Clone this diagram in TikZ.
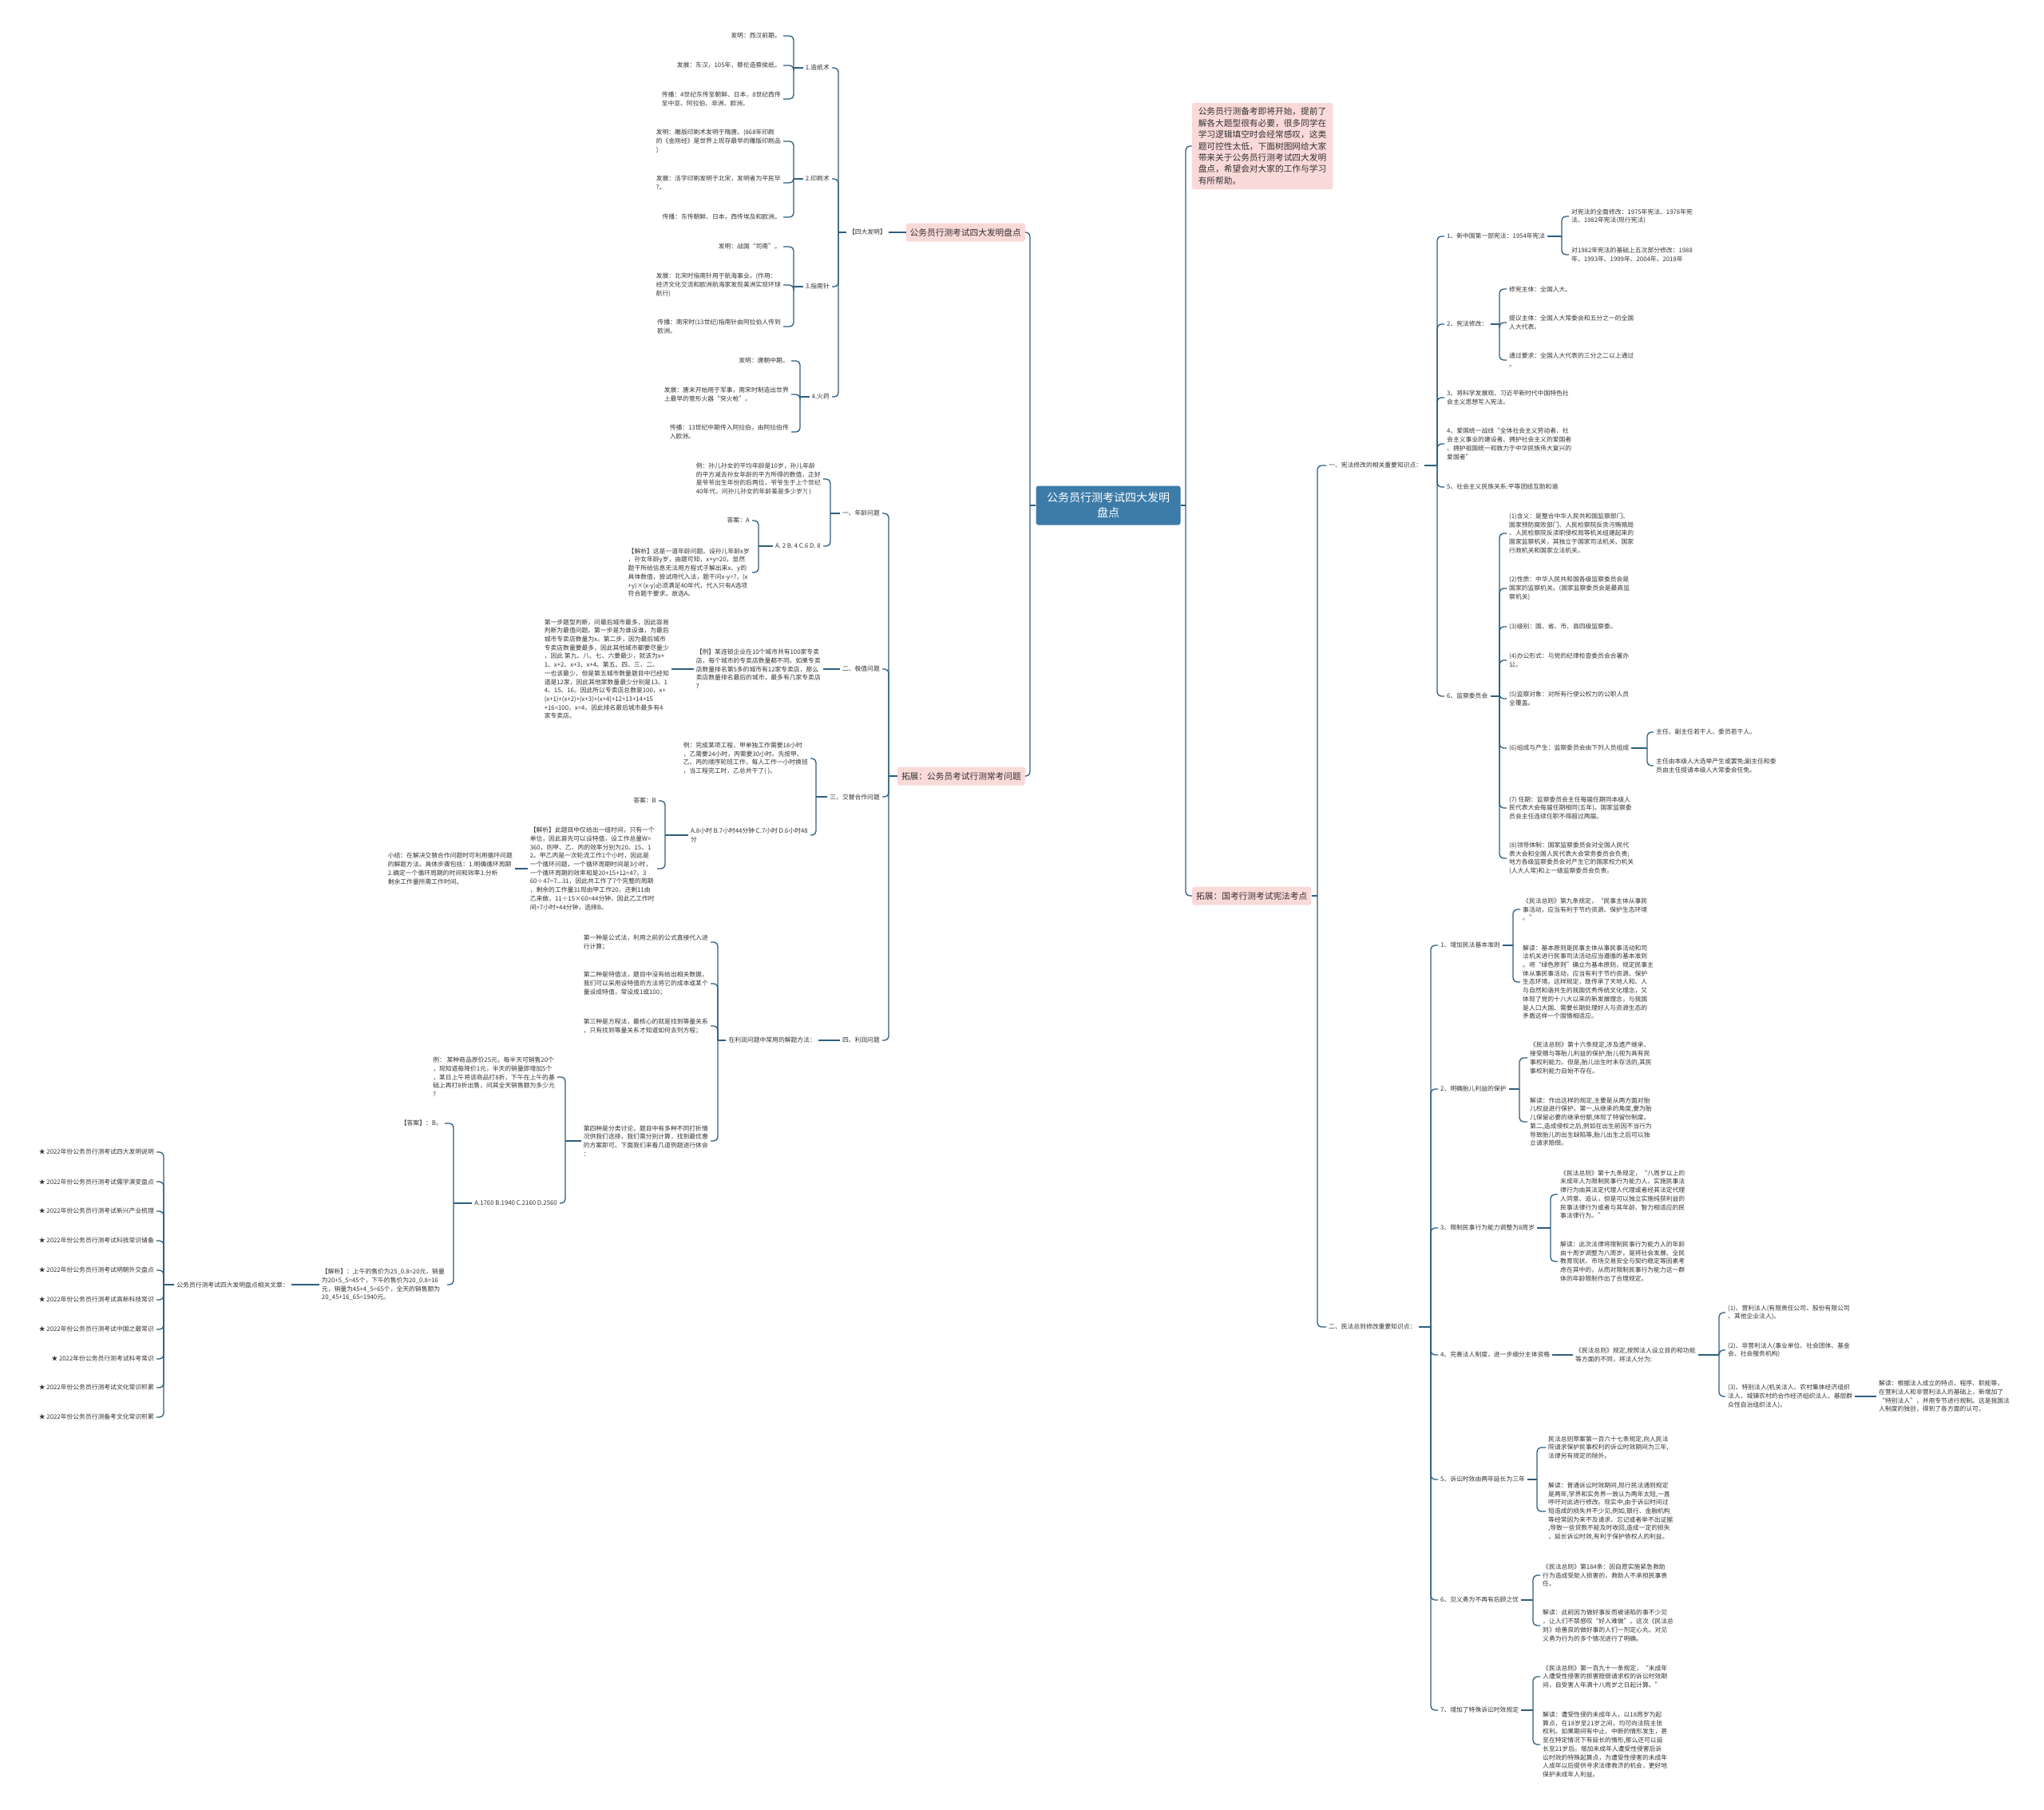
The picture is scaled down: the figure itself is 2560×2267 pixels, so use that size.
\documentclass[tikz,border=0pt]{standalone}
\usepackage{fontspec}
\setmainfont{Noto Sans CJK SC}
\usepackage{tikz}
\usetikzlibrary{positioning}
\definecolor{RootBlue}{HTML}{3D7CA8}
\definecolor{SoftPink}{HTML}{FAD9D9}
\definecolor{LinkBlue}{HTML}{2E5E7E}
\definecolor{TextGray}{HTML}{333333}
\newcommand{\leaffont}{\fontsize{7.8}{10.7}\selectfont}
% bracket connectors: parent, spine x, children
\newcommand{\brR}[3]{%
  \coordinate (sp) at (#2,0);
  \draw[link] (#1.east) -- (#1.east -| sp);
  \foreach \kid in {#3}{\draw[link] (#1.east -| sp) |- (\kid.west);}}
\newcommand{\brL}[3]{%
  \coordinate (sp) at (#2,0);
  \draw[link] (#1.west) -- (#1.west -| sp);
  \foreach \kid in {#3}{\draw[link] (#1.west -| sp) |- (\kid.east);}}

\begin{document}
\begin{tikzpicture}[x=1pt, y=-1pt,
  every node/.style={text=TextGray},
  leafL/.style={anchor=east, align=left, font=\leaffont, inner xsep=3pt, inner ysep=1pt},
  leafR/.style={anchor=west, align=left, font=\leaffont, inner xsep=3pt, inner ysep=1pt},
  pinkbox/.style={fill=SoftPink, rounded corners=3pt, align=left,
                  font=\fontsize{10.7}{14.4}\selectfont, inner xsep=5pt, minimum height=23pt},
  rootbox/.style={fill=RootBlue, text=white, rounded corners=3pt, align=center,
                  font=\fontsize{14}{19}\selectfont, minimum width=181pt, minimum height=49pt},
  link/.style={draw=LinkBlue, line width=1.3pt, rounded corners=5pt}
]
\fill[white] (0,0) rectangle (2560,2267);
\useasboundingbox (0,0) rectangle (2560,2267);

% Nodes
\node[rootbox] (root) at (1388,633) {公务员行测考试四大发明\\盘点};
\node[pinkbox, inner ysep=6pt, inner xsep=8pt] (intro) at (1581,183) {公务员行测备考即将开始，提前了\\解各大题型很有必要，很多同学在\\学习逻辑填空时会经常感叹，这类\\题可控性太低，下面树图网给大家\\带来关于公务员行测考试四大发明\\盘点，希望会对大家的工作与学习\\有所帮助。};
\node[pinkbox, anchor=east] (invL) at (1284,291) {公务员行测考试四大发明盘点};
\node[pinkbox, anchor=east] (extL) at (1284,972) {拓展：公务员考试行测常考问题};
\node[pinkbox, anchor=west] (extR) at (1493,1122) {拓展：国考行测考试宪法考点};

% Four inventions
\node[leafL] (sdfm) at (1113,291) {【四大发明】};
\node[leafL] (zz) at (1042,85) {1.造纸术};
\node[leafL] (ys) at (1042,224) {2.印刷术};
\node[leafL] (znz) at (1042,359) {3.指南针};
\node[leafL] (hy) at (1042,497) {4.火药};
\node[leafL] (zz1) at (981,45) {发明：西汉前期。};
\node[leafL] (zz2) at (981,82) {发展：东汉，105年，蔡伦造蔡侯纸。};
\node[leafL] (zz3) at (981,124) {传播：4世纪东传至朝鲜、日本，8世纪西传\\至中亚、阿拉伯、非洲、欧洲。};
\node[leafL] (ys1) at (981,177) {发明：雕版印刷术发明于隋唐。(868年印刷\\的《金刚经》是世界上现存最早的雕版印刷品\\)};
\node[leafL] (ys2) at (981,229) {发展：活字印刷发明于北宋，发明者为平民毕\\?。};
\node[leafL] (ys3) at (981,272) {传播：东传朝鲜、日本，西传埃及和欧洲。};
\node[leafL] (znz1) at (981,309) {发明：战国“司南”。};
\node[leafL] (znz2) at (981,357) {发展：北宋时指南针用于航海事业。(作用：\\经济文化交流和欧洲航海家发现美洲实现环球\\航行)};
\node[leafL] (znz3) at (981,409) {传播：南宋时(13世纪)指南针由阿拉伯人传到\\欧洲。};
\node[leafL] (hy1) at (991,452) {发明：唐朝中期。};
\node[leafL] (hy2) at (991,494) {发展：唐末开始用于军事，南宋时制造出世界\\上最早的管形火器“突火枪”。};
\node[leafL] (hy3) at (991,541) {传播：13世纪中期传入阿拉伯，由阿拉伯传\\入欧洲。};

% Common question types
\node[leafL] (nl) at (1105,643) {一、年龄问题};
\node[leafL] (jz) at (1105,838) {二、极值问题};
\node[leafL] (jt) at (1105,998) {三、交替合作问题};
\node[leafL] (lr) at (1105,1303) {四、利润问题};
\node[leafL] (nl1) at (1031,600) {例：孙儿孙女的平均年龄是10岁，孙儿年龄\\的平方减去孙女年龄的平方所得的数值，正好\\是爷爷出生年份的后两位，爷爷生于上个世纪\\40年代，问孙儿孙女的年龄差是多少岁?( )};
\node[leafL] (nl2) at (1031,684) {A. 2 B. 4 C.6 D. 8};
\node[leafL] (nl2a) at (942,652) {答案：A};
\node[leafL] (nl2b) at (942,717) {【解析】这是一道年龄问题。设孙儿年龄x岁\\，孙女年龄y岁，由题可知，x+y=20，显然\\题干所给信息无法用方程式子解出来x、y的\\具体数值，尝试用代入法，题干问x-y=?，(x\\+y)×(x-y)必须满足40年代，代入只有A选项\\符合题干要求。故选A。};
\node[leafL] (jz1) at (1031,838) {【例】某连锁企业在10个城市共有100家专卖\\店，每个城市的专卖店数量都不同。如果专卖\\店数量排名第5多的城市有12家专卖店，那么\\卖店数量排名最后的城市，最多有几家专卖店\\?};
\node[leafL] (jz2) at (841,838) {第一步题型判断，问最后城市最多，因此容易\\判断为最值问题。第一步是为谁设谁，为最后\\城市专卖店数量为x。第二步，因为最后城市\\专卖店数量要最多，因此其他城市都要尽量少\\，因此 第九、八、七、六要最少，就该为x+\\1、x+2、x+3、x+4。第五、四、三、二、\\一也该最少，但是第五城市数量题目中已经知\\道是12家，因此其他家数量最少分别是13、1\\4、15、16。因此所以专卖店总数是100，x+\\(x+1)+(x+2)+(x+3)+(x+4)+12+13+14+15\\+16=100，x=4，因此排名最后城市最多有4\\家专卖店。};
\node[leafL] (jt1) at (1015,950) {例：完成某项工程，甲单独工作需要18小时\\，乙需要24小时，丙需要30小时。先按甲、\\乙、丙的顺序轮班工作，每人工作一小时换班\\，当工程完工时，乙总共干了( )。};
\node[leafL] (jt2) at (1015,1046) {A.8小时 B.7小时44分钟 C.7小时 D.6小时48\\分};
\node[leafL] (jt2a) at (825,1003) {答案：B};
\node[leafL] (jt2b) at (823,1088) {【解析】此题目中仅给出一组时间，只有一个\\单位，因此首先可以设特值，设工作总量W=\\360，则甲、乙、丙的效率分别为20、15、1\\2。甲乙丙是一次轮流工作1个小时，因此是\\一个循环问题，一个循环周期时间是3小时，\\一个循环周期的效率和是20+15+12=47，3\\60÷47=7...31，因此共工作了7个完整的周期\\，剩余的工作量31现由甲工作20，还剩11由\\乙来做，11÷15×60=44分钟，因此乙工作时\\间=7小时+44分钟，选择B。};
\node[leafL] (jt2c) at (645,1088) {小结：在解决交替合作问题时可利用循环问题\\的解题方法。具体步骤包括：1.明确循环周期\\2.确定一个循环周期的时间和效率3.分析\\剩余工作量所需工作时间。};
\node[leafL] (lr1) at (1025,1303) {在利润问题中常用的解题方法：};
\node[leafL] (lr1a) at (890,1180) {第一种是公式法，利用之前的公式直接代入进\\行计算；};
\node[leafL] (lr1b) at (890,1232) {第二种是特值法，题目中没有给出相关数据，\\我们可以采用设特值的方法将它的成本或某个\\量设成特值，常设成1或100；};
\node[leafL] (lr1c) at (890,1285) {第三种是方程法，最核心的就是找到等量关系\\，只有找到等量关系才知道如何去列方程；};
\node[leafL] (lr1d) at (890,1429) {第四种是分类讨论，题目中有多种不同打折情\\况供我们选择，我们需分别计算，找到最优惠\\的方案即可。下面我们来看几道例题进行体会\\：};
\node[leafL] (lr1d1) at (698,1349) {例： 某种商品原价25元，每半天可销售20个\\，现知道每降价1元，半天的销量即增加5个\\，某日上午将该商品打8折，下午在上午的基\\础上再打8折出售，问其全天销售额为多少元\\?};
\node[leafL] (lr1d2) at (701,1507) {A.1760 B.1940 C.2160 D.2560};
\node[leafL] (ans) at (557,1407) {【答案】：B。};
\node[leafL] (jx) at (560,1609) {【解析】：上午的售价为25\_0.8=20元，销量\\为20+5\_5=45个，下午的售价为20\_0.8=16\\元，销量为45+4\_5=65个，全天的销售额为\\20\_45+16\_65=1940元。};
\node[leafL] (rel) at (365,1609) {公务员行测考试四大发明盘点相关文章：};
\node[leafL] (rel1) at (196,1443) {★ 2022年份公务员行测考试四大发明说明};
\node[leafL] (rel2) at (196,1480) {★ 2022年份公务员行测考试儒学演变盘点};
\node[leafL] (rel3) at (196,1517) {★ 2022年份公务员行测考试新兴产业梳理};
\node[leafL] (rel4) at (196,1554) {★ 2022年份公务员行测考试科技常识储备};
\node[leafL] (rel5) at (196,1591) {★ 2022年份公务员行测考试明朝外交盘点};
\node[leafL] (rel6) at (196,1628) {★ 2022年份公务员行测考试高新科技常识};
\node[leafL] (rel7) at (196,1665) {★ 2022年份公务员行测考试中国之最常识};
\node[leafL] (rel8) at (196,1702) {★ 2022年份公务员行测考试科考常识};
\node[leafL] (rel9) at (196,1738) {★ 2022年份公务员行测考试文化常识积累};
\node[leafL] (rel10) at (196,1775) {★ 2022年份公务员行测备考文化常识积累};

% Constitution
\node[leafR] (xf) at (1661,583) {一、宪法修改的相关重要知识点：};
\node[leafR] (x1) at (1809,296) {1、新中国第一部宪法：1954年宪法};
\node[leafR] (x2) at (1809,406) {2、宪法修改：};
\node[leafR] (x3) at (1809,498) {3、将科学发展观、习近平新时代中国特色社\\会主义思想写入宪法。};
\node[leafR] (x4) at (1809,556) {4、爱国统一战线“全体社会主义劳动者、社\\会主义事业的建设者、拥护社会主义的爱国者\\、拥护祖国统一和致力于中华民族伟大复兴的\\爱国者”};
\node[leafR] (x5) at (1809,610) {5、社会主义民族关系:平等团结互助和谐};
\node[leafR] (x6) at (1809,872) {6、监察委员会};
\node[leafR] (x1a) at (1965,271) {对宪法的全面修改：1975年宪法、1978年宪\\法、1982年宪法(现行宪法)};
\node[leafR] (x1b) at (1965,319) {对1982年宪法的基础上五次部分修改：1988\\年、1993年、1999年、2004年、2018年};
\node[leafR] (x2a) at (1887,362) {修宪主体：全国人大。};
\node[leafR] (x2b) at (1887,404) {提议主体：全国人大常委会和五分之一的全国\\人大代表。};
\node[leafR] (x2c) at (1887,451) {通过要求：全国人大代表的三分之二以上通过\\。};
\node[leafR] (x6a) at (1887,668) {(1)含义：是整合中华人民共和国监察部门、\\国家预防腐败部门、人民检察院反贪污贿赂局\\、人民检察院反渎职侵权局等机关组建起来的\\国家监察机关，其独立于国家司法机关、国家\\行政机关和国家立法机关。};
\node[leafR] (x6b) at (1887,737) {(2)性质：中华人民共和国各级监察委员会是\\国家的监察机关。(国家监察委员会是最高监\\察机关)};
\node[leafR] (x6c) at (1887,785) {(3)级别：国、省、市、县四级监察委。};
\node[leafR] (x6d) at (1887,827) {(4)办公形式：与党的纪律检查委员会合署办\\公。};
\node[leafR] (x6e) at (1887,875) {(5)监察对象：对所有行使公权力的公职人员\\全覆盖。};
\node[leafR] (x6f) at (1887,937) {(6)组成与产生：监察委员会由下列人员组成};
\node[leafR] (x6g) at (1887,1012) {(7) 任期：监察委员会主任每届任期同本级人\\民代表大会每届任期相同(五年)。国家监察委\\员会主任连续任职不得超过两届。};
\node[leafR] (x6h) at (1887,1075) {(8)领导体制：国家监察委员会对全国人民代\\表大会和全国人民代表大会常务委员会负责;\\地方各级监察委员会对产生它的国家权力机关\\(人大人常)和上一级监察委员会负责。};
\node[leafR] (x6f1) at (2071,917) {主任、副主任若干人、委员若干人。};
\node[leafR] (x6f2) at (2071,959) {主任由本级人大选举产生或罢免;副主任和委\\员由主任提请本级人大常委会任免。};

% Civil code
\node[leafR] (mf) at (1661,1662) {二、民法总则修改重要知识点：};
\node[leafR] (m1) at (1801,1184) {1、增加民法基本准则};
\node[leafR] (m2) at (1801,1364) {2、明确胎儿利益的保护};
\node[leafR] (m3) at (1801,1538) {3、限制民事行为能力调整为8周岁};
\node[leafR] (m4) at (1801,1697) {4、完善法人制度，进一步细分主体资格};
\node[leafR] (m5) at (1801,1853) {5、诉讼时效由两年延长为三年};
\node[leafR] (m6) at (1801,2004) {6、见义勇为不再有后顾之忧};
\node[leafR] (m7) at (1801,2142) {7、增加了特殊诉讼时效规定};
\node[leafR] (m1a) at (1904,1139) {《民法总则》第九条规定，“民事主体从事民\\事活动，应当有利于节约资源、保护生态环境\\。”};
\node[leafR] (m1b) at (1904,1230) {解读：基本原则是民事主体从事民事活动和司\\法机关进行民事司法活动应当遵循的基本准则\\。将“绿色原则”确立为基本原则，规定民事主\\体从事民事活动，应当有利于节约资源、保护\\生态环境。这样规定，既传承了天地人和、人\\与自然和谐共生的我国优秀传统文化理念，又\\体现了党的十八大以来的新发展理念，与我国\\是人口大国、需要长期处理好人与资源生态的\\矛盾这样一个国情相适应。};
\node[leafR] (m2a) at (1913,1325) {《民法总则》第十六条规定,涉及遗产继承、\\接受赠与等胎儿利益的保护,胎儿视为具有民\\事权利能力。但是,胎儿出生时未存活的,其民\\事权利能力自始不存在。};
\node[leafR] (m2b) at (1913,1405) {解读：作出这样的规定,主要是从两方面对胎\\儿权益进行保护。第一,从继承的角度,要为胎\\儿保留必要的继承份额,体现了特留份制度。\\第二,造成侵权之后,例如在出生前因不当行为\\导致胎儿的出生缺陷等,胎儿出生之后可以独\\立请求赔偿。};
\node[leafR] (m3a) at (1951,1496) {《民法总则》第十九条规定，“八周岁以上的\\未成年人为限制民事行为能力人，实施民事法\\律行为由其法定代理人代理或者经其法定代理\\人同意、追认，但是可以独立实施纯获利益的\\民事法律行为或者与其年龄、智力相适应的民\\事法律行为。”};
\node[leafR] (m3b) at (1951,1580) {解读：此次法律将限制民事行为能力人的年龄\\由十周岁调整为八周岁，是将社会发展、全民\\教育现状、市场交易安全与契约稳定等因素考\\虑在其中的，从而对限制民事行为能力这一群\\体的年龄限制作出了合理规定。};
\node[leafR] (m4a) at (1970,1697) {《民法总则》规定,按照法人设立目的和功能\\等方面的不同，将法人分为:};
\node[leafR] (m4a1) at (2161,1644) {(1)、营利法人(有限责任公司、股份有限公司\\、其他企业法人)。};
\node[leafR] (m4a2) at (2161,1691) {(2)、非营利法人(事业单位、社会团体、基金\\会、社会服务机构)};
\node[leafR] (m4a3) at (2161,1749) {(3)、特别法人(机关法人、农村集体经济组织\\法人、城镇农村的合作经济组织法人、基层群\\众性自治组织法人)。};
\node[leafR] (m4a3a) at (2350,1749) {解读：根据法人成立的特点、程序、职能等，\\在营利法人和非营利法人的基础上，新增加了\\“特别法人”，并用专节进行规制。这是我国法\\人制度的独创，得到了各方面的认可。};
\node[leafR] (m5a) at (1936,1813) {民法总则草案第一百六十七条规定,向人民法\\院请求保护民事权利的诉讼时效期间为三年,\\法律另有规定的除外。};
\node[leafR] (m5b) at (1936,1893) {解读：普通诉讼时效期间,现行民法通则规定\\是两年,学界和实务界一致认为两年太短,一直\\呼吁对此进行修改。现实中,由于诉讼时间过\\短造成的损失并不少见,例如,银行、金融机构\\等经常因为来不及请求、忘记或者举不出证据\\,导致一些贷款不能及时收回,造成一定的损失\\，延长诉讼时效,有利于保护债权人的利益。};
\node[leafR] (m6a) at (1929,1973) {《民法总则》第184条：因自愿实施紧急救助\\行为造成受助人损害的，救助人不承担民事责\\任。};
\node[leafR] (m6b) at (1929,2036) {解读：此前因为做好事反而被诬陷的事不少见\\，让人们不禁感叹“好人难做”。这次《民法总\\则》给善良的做好事的人们一剂定心丸，对见\\义勇为行为的多个情况进行了明确。};
\node[leafR] (m7a) at (1929,2100) {《民法总则》第一百九十一条规定，“未成年\\人遭受性侵害的损害赔偿请求权的诉讼时效期\\间，自受害人年满十八周岁之日起计算。”};
\node[leafR] (m7b) at (1929,2185) {解读：遭受性侵的未成年人，以18周岁为起\\算点，在18岁至21岁之间，均可向法院主张\\权利。如果期间有中止、中断的情形发生，甚\\至在特定情况下有延长的情形,那么还可以延\\长至21岁后。增加未成年人遭受性侵害后诉\\讼时效的特殊起算点，为遭受性侵害的未成年\\人成年以后提供寻求法律救济的机会，更好地\\保护未成年人利益。};

% Connectors
\brL{root}{1290}{invL,extL}
\brR{root}{1485}{intro,extR}

\draw[link] (invL.west) -- (sdfm.east);
\brL{sdfm}{1050}{zz,ys,znz,hy}
\brL{zz}{994}{zz1,zz2,zz3}
\brL{ys}{994}{ys1,ys2,ys3}
\brL{znz}{994}{znz1,znz2,znz3}
\brL{hy}{1002}{hy1,hy2,hy3}

\brL{extL}{1113}{nl,jz,jt,lr}
\brL{nl}{1040}{nl1,nl2}
\brL{nl2}{950}{nl2a,nl2b}
\draw[link] (jz.west) -- (jz1.east);
\draw[link] (jz1.west) -- (jz2.east);
\brL{jt}{1022}{jt1,jt2}
\brL{jt2}{833}{jt2a,jt2b}
\draw[link] (jt2b.west) -- (jt2c.east);
\draw[link] (lr.west) -- (lr1.east);
\brL{lr1}{899}{lr1a,lr1b,lr1c,lr1d}
\brL{lr1d}{708}{lr1d1,lr1d2}
\brL{lr1d2}{568}{ans,jx}
\draw[link] (jx.west) -- (rel.east);
\brL{rel}{205}{rel1,rel2,rel3,rel4,rel5,rel6,rel7,rel8,rel9,rel10}

\brR{extR}{1650}{xf,mf}
\brR{xf}{1800}{x1,x2,x3,x4,x5,x6}
\brR{x1}{1956}{x1a,x1b}
\brR{x2}{1878}{x2a,x2b,x2c}
\brR{x6}{1878}{x6a,x6b,x6c,x6d,x6e,x6f,x6g,x6h}
\brR{x6f}{2063}{x6f1,x6f2}

\brR{mf}{1792}{m1,m2,m3,m4,m5,m6,m7}
\brR{m1}{1895}{m1a,m1b}
\brR{m2}{1903}{m2a,m2b}
\brR{m3}{1942}{m3a,m3b}
\draw[link] (m4.east) -- (m4a.west);
\brR{m4a}{2153}{m4a1,m4a2,m4a3}
\draw[link] (m4a3.east) -- (m4a3a.west);
\brR{m5}{1925}{m5a,m5b}
\brR{m6}{1920}{m6a,m6b}
\brR{m7}{1920}{m7a,m7b}

\end{tikzpicture}
\end{document}
